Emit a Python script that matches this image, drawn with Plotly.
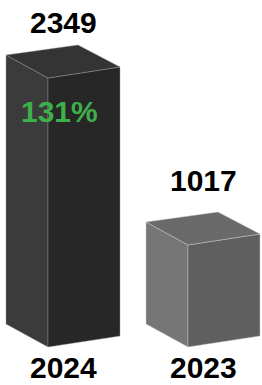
import plotly.graph_objects as go

# ---- data ----
categories = ["2024", "2023"]
values = [2349, 1017]
change_label = "131%"

# ---- styling / layout parameters ----
W, H = 262, 385
BASE = 203                      # axis value at the bars' front-bottom corner
K = 269 / (values[0] - BASE)    # pixels per value unit
Y0 = BASE - 38 / K
Y1 = BASE + 347 / K
PX_X = 140                      # pixels per category step
X0 = -63 / PX_X
X1 = X0 + W / PX_X

face_colors = [
    {"left": "#3b3b3b", "right": "#272727", "top": "#343434", "edge": "rgba(150,150,150,0.55)"},
    {"left": "#767676", "right": "#5f5f5f", "top": "#6a6a6a", "edge": "rgba(200,200,200,0.6)"},
]
value_gap_px = [23, 31]
FONT = "Arial, Liberation Sans, sans-serif"


def dx(p):
    return p / PX_X


def dy(p):
    return p / K


fig = go.Figure()
annotations = []
for i, (cat, v) in enumerate(zip(categories, values)):
    L, F, R, B = i - dx(57), i - dx(15), i + dx(57), i + dx(15)
    FB, LB, RB = BASE, BASE + dy(23), BASE + dy(11)
    FT, LT, RT, BT = v, v + dy(23), v + dy(11), v + dy(33)
    c = face_colors[i]
    faces = [
        ([L, F, F, L, L], [LB, FB, FT, LT, LB], c["left"]),
        ([F, R, R, F, F], [FB, RB, RT, FT, FB], c["right"]),
        ([L, F, R, B, L], [LT, FT, RT, BT, LT], c["top"]),
    ]
    for xs, ys, col in faces:
        fig.add_trace(go.Scatter(
            x=xs, y=ys, mode="lines", fill="toself", fillcolor=col,
            line=dict(color=c["edge"], width=0.8), hoverinfo="skip", showlegend=False,
        ))
    annotations.append(dict(
        x=i, y=BT, yshift=value_gap_px[i], text=f"<b>{v}</b>", showarrow=False,
        font=dict(family=FONT, size=30, color="#000000"), xanchor="center", yanchor="middle",
    ))
    annotations.append(dict(
        x=i, y=BASE, yshift=-20, text=f"<b>{cat}</b>", showarrow=False,
        font=dict(family=FONT, size=30, color="#000000"), xanchor="center", yanchor="middle",
        borderpad=0,
    ))

annotations.append(dict(
    x=0 - dx(3.3), y=values[0] - dy(33), text=f"<b>{change_label}</b>", showarrow=False,
    font=dict(family=FONT, size=30, color="#3db04b"), xanchor="center", yanchor="middle",
))

fig.update_layout(
    width=W, height=H,
    margin=dict(l=0, r=0, t=0, b=0),
    paper_bgcolor="white", plot_bgcolor="white",
    xaxis=dict(range=[X0, X1], visible=False, fixedrange=True),
    yaxis=dict(range=[Y0, Y1], visible=False, fixedrange=True),
    annotations=annotations,
    showlegend=False,
)
fig.write_html(
    "out.html",
    config={"displayModeBar": False},
    post_script="document.body.style.margin='0';document.body.style.overflow='hidden';",
)
